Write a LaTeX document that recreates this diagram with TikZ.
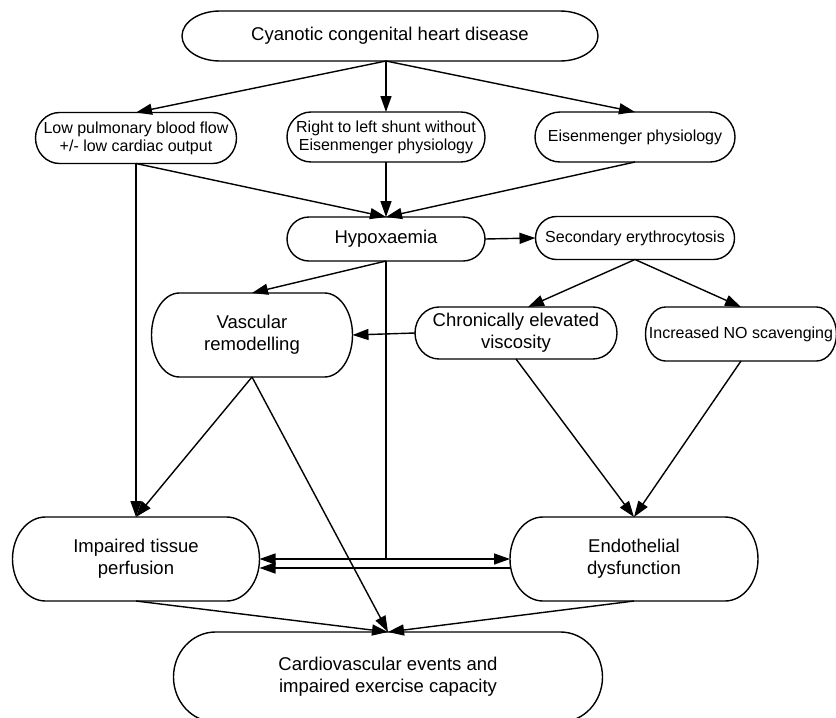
\documentclass[tikz,border=0pt]{standalone}
\usepackage{fontspec}
\setmainfont{Liberation Sans}
\usetikzlibrary{arrows.meta}

\newcommand{\bigtext}{\fontsize{18.5}{22}\selectfont}
\newcommand{\smalltext}{\fontsize{16}{18}\selectfont}
% outline round a node: name, half height, end radius
\newcommand{\nodeoutline}[3]{%
  \draw ([xshift=#3pt]#1.north west) -- ([xshift=-#3pt]#1.north east)
    arc[start angle=90, end angle=-90, x radius=#3pt, y radius=#2pt]
    -- ([xshift=#3pt]#1.south west)
    arc[start angle=270, end angle=90, x radius=#3pt, y radius=#2pt] -- cycle;}

\tikzset{
  box/.style={inner sep=0pt, outer sep=0pt, align=center, font=\bigtext},
  smallbox/.style={box, font=\smalltext},
  arr/.style={-{Triangle[length=16pt,width=11pt]}},
}

\begin{document}
\begin{tikzpicture}[x=1pt, y=-1pt, line width=1.4pt]
  \fill[white] (0,0) rectangle (836,718);
  \useasboundingbox (0,0) rectangle (836,718);

  \node[box, minimum width=416pt, minimum height=50pt] (chd) at (390,36) {Cyanotic congenital heart disease};

  \node[smallbox, minimum width=201pt, minimum height=51pt] (low) at (136,138) {Low pulmonary blood flow\\+/- low cardiac output};
  \node[smallbox, minimum width=198pt, minimum height=50pt] (shunt) at (386,137) {Right to left shunt without\\Eisenmenger physiology};
  \node[smallbox, minimum width=200pt, minimum height=50pt] (eisen) at (635,137) {Eisenmenger physiology};

  \node[box, minimum width=198pt, minimum height=44pt] (hypox) at (386,239) {Hypoxaemia};
  \node[smallbox, minimum width=199pt, minimum height=43pt] (secer) at (635,238) {Secondary erythrocytosis};

  \node[box, minimum width=201pt, minimum height=84pt] (vasc) at (252,335) {Vascular\\remodelling};
  \node[box, minimum width=202pt, minimum height=52pt] (visc) at (516,333) {Chronically elevated\\viscosity};
  \node[smallbox, minimum width=191pt, minimum height=54pt] (noscav) at (741,334) {Increased NO scavenging};

  \node[box, minimum width=247pt, minimum height=84pt] (imp) at (136,559) {Impaired tissue\\perfusion};
  \node[box, minimum width=248pt, minimum height=84pt] (endo) at (634,559) {Endothelial\\dysfunction};

  \node[box, minimum width=429pt, minimum height=90pt] (cvd) at (388,677) {Cardiovascular events and\\impaired exercise capacity};

  \nodeoutline{chd}{25}{38}
  \nodeoutline{low}{25.5}{24}
  \nodeoutline{shunt}{25}{24}
  \nodeoutline{eisen}{25}{25}
  \nodeoutline{hypox}{22}{22}
  \nodeoutline{secer}{21.5}{21}
  \nodeoutline{vasc}{42}{28}
  \nodeoutline{visc}{26}{24}
  \nodeoutline{noscav}{27}{20}
  \nodeoutline{imp}{42}{33}
  \nodeoutline{endo}{42}{33}
  \nodeoutline{cvd}{45}{42}

  \coordinate (fork) at (shunt.north |- chd.south);
  \coordinate (split) at (hypox.south |- imp.east);

  \draw[arr] (fork) -- (low.north);
  \draw[arr] (fork) -- (shunt.north);
  \draw[arr] (fork) -- (eisen.north);

  \draw[arr] (low.south) -- (hypox.north);
  \draw[arr] (shunt.south) -- (hypox.north);
  \draw[arr] (eisen.south) -- (hypox.north);
  \draw[arr] (low.south) -- (imp.north);

  \draw[arr] (hypox.east) -- (secer.west);
  \draw[arr] (hypox.south) -- (vasc.north);
  \draw[arr] (secer.south) -- ([xshift=12pt]visc.north);
  \draw[arr] (secer.south) -- (noscav.north);
  \draw[arr] (visc.west) -- (vasc.east);

  \draw[arr] (vasc.south) -- (imp.north);
  \draw[arr] (vasc.south) -- (cvd.north);
  \draw[arr] (visc.south) -- (endo.north);
  \draw[arr] (noscav.south) -- (endo.north);

  \draw (hypox.south) -- (split);
  \draw[arr] (split) -- (imp.east);
  \draw[arr] (split) -- (endo.west);
  \draw[arr] ([yshift=-9pt]endo.west) -- ([yshift=-9pt]imp.east);

  \draw[arr] (imp.south) -- (cvd.north);
  \draw[arr] (endo.south) -- (cvd.north);
\end{tikzpicture}
\end{document}
